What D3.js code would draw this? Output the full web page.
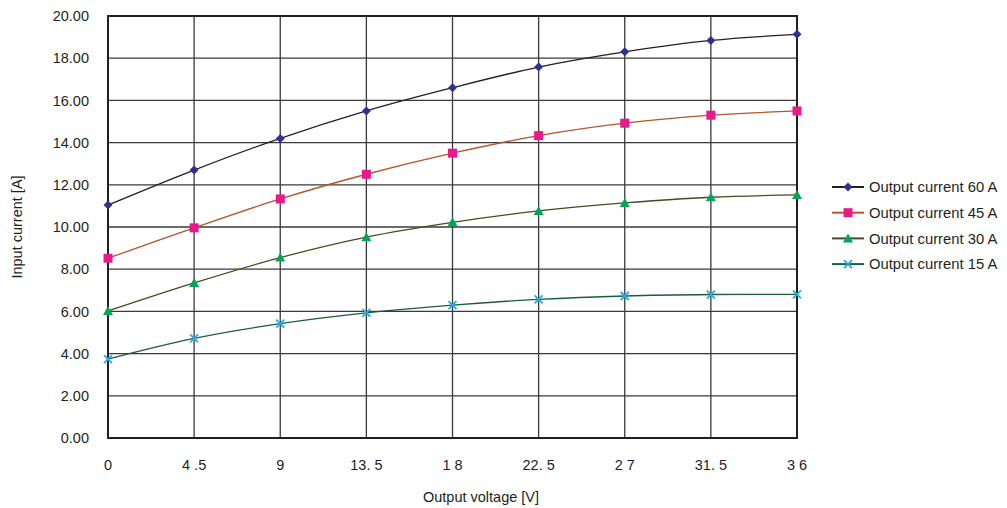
<!DOCTYPE html>
<html>
<head>
<meta charset="utf-8">
<script src="https://cdn.jsdelivr.net/npm/d3@7"></script>
<style>
  body { margin: 0; background: #fff; }
  text { font-family: "Liberation Sans", Arial, sans-serif; fill: #231f20; }
</style>
</head>
<body>
<div id="chart"></div>
<script>
var voltages = [0, 4.5, 9, 13.5, 18, 22.5, 27, 31.5, 36];
var xTickLabels = ["0", "4 .5", "9", "13. 5", "1 8", "22. 5", "2 7", "31. 5", "3 6"];
var yTicks = [0, 2, 4, 6, 8, 10, 12, 14, 16, 18, 20];

var current60 = [11.04, 12.70, 14.20, 15.50, 16.60, 17.58, 18.30, 18.84, 19.13];
var current45 = [8.52, 9.96, 11.33, 12.50, 13.50, 14.33, 14.92, 15.30, 15.50];
var current30 = [6.02, 7.35, 8.55, 9.52, 10.22, 10.76, 11.14, 11.41, 11.52];
var current15 = [3.74, 4.72, 5.42, 5.93, 6.30, 6.57, 6.73, 6.80, 6.81];

var seriesNames = ["Output current 60 A", "Output current 45 A", "Output current 30 A", "Output current 15 A"];

var series = [
  { name: seriesNames[0], values: current60, line: "#231f20", marker: "#2e3192", shape: "diamond" },
  { name: seriesNames[1], values: current45, line: "#b5552b", marker: "#e8198b", shape: "square" },
  { name: seriesNames[2], values: current30, line: "#4b4a1f", marker: "#00a55a", shape: "triangle" },
  { name: seriesNames[3], values: current15, line: "#1b5e3b", marker: "#27aae1", shape: "cross" }
];

var width = 1007, height = 508;
var margin = { left: 108, right: 210, top: 16, bottom: 70 };

var svg = d3.select("#chart").append("svg")
  .attr("width", width)
  .attr("height", height);

var x = d3.scaleLinear().domain([0, 36]).range([margin.left, width - margin.right]);
var y = d3.scaleLinear().domain([0, 20]).range([height - margin.bottom, margin.top]);

// grid
svg.append("g").selectAll("line.h")
  .data(yTicks)
  .enter().append("line")
  .attr("x1", x(0)).attr("x2", x(36))
  .attr("y1", function(d) { return y(d); })
  .attr("y2", function(d) { return y(d); })
  .attr("stroke", "#3a3a3a").attr("stroke-width", 1.3);

svg.append("g").selectAll("line.v")
  .data(voltages)
  .enter().append("line")
  .attr("y1", y(0)).attr("y2", y(20))
  .attr("x1", function(d) { return x(d); })
  .attr("x2", function(d) { return x(d); })
  .attr("stroke", "#3a3a3a").attr("stroke-width", 1.3);

// frame
svg.append("rect")
  .attr("x", x(0)).attr("y", y(20))
  .attr("width", x(36) - x(0)).attr("height", y(0) - y(20))
  .attr("fill", "none").attr("stroke", "#231f20").attr("stroke-width", 2);

// y tick labels
svg.append("g").selectAll("text")
  .data(yTicks)
  .enter().append("text")
  .attr("x", 89)
  .attr("y", function(d) { return y(d); })
  .attr("dy", "0.36em")
  .attr("text-anchor", "end")
  .style("font-size", "14.5px")
  .text(function(d) { return d3.format(".2f")(d); });

// x tick labels
svg.append("g").selectAll("text")
  .data(voltages)
  .enter().append("text")
  .attr("x", function(d) { return x(d); })
  .attr("y", 470)
  .attr("text-anchor", "middle")
  .style("font-size", "14.5px")
  .style("white-space", "pre")
  .text(function(d, i) { return xTickLabels[i]; });

// axis titles
svg.append("text")
  .attr("x", 481).attr("y", 502)
  .attr("text-anchor", "middle")
  .style("font-size", "14.5px")
  .text("Output voltage [V]");

svg.append("text")
  .attr("transform", "translate(22," + y(10) + ") rotate(-90)")
  .attr("text-anchor", "middle")
  .style("font-size", "14.5px")
  .text("Input current [A]");

var line = d3.line()
  .x(function(d, i) { return x(voltages[i]); })
  .y(function(d) { return y(d); })
  .curve(d3.curveCatmullRom.alpha(0.5));

function drawMarker(g, shape, color) {
  if (shape === "diamond") {
    g.append("path").attr("d", "M0,-4.5L4.5,0L0,4.5L-4.5,0Z").attr("fill", color);
  } else if (shape === "square") {
    g.append("rect").attr("x", -4.5).attr("y", -4.5).attr("width", 9).attr("height", 9).attr("fill", color);
  } else if (shape === "triangle") {
    g.append("path").attr("d", "M0,-5L5,4L-5,4Z").attr("fill", color);
  } else {
    g.append("path").attr("d", "M-4,-4L4,4M-4,4L4,-4")
      .attr("stroke", color).attr("stroke-width", 1.8).attr("fill", "none");
  }
}

series.forEach(function(s) {
  svg.append("path")
    .datum(s.values)
    .attr("d", line)
    .attr("fill", "none")
    .attr("stroke", s.line)
    .attr("stroke-width", 1.3);

  s.values.forEach(function(v, i) {
    var g = svg.append("g").attr("transform", "translate(" + x(voltages[i]) + "," + y(v) + ")");
    drawMarker(g, s.shape, s.marker);
  });
});

// legend
var legend = svg.selectAll(".legend")
  .data(series)
  .enter().append("g")
  .attr("class", "legend")
  .attr("transform", function(d, i) { return "translate(832," + (187 + i * 25.7) + ")"; });

legend.append("line")
  .attr("x1", 0).attr("x2", 32)
  .attr("stroke", function(d) { return d.line; })
  .attr("stroke-width", 2);

legend.each(function(d) {
  var g = d3.select(this).append("g").attr("transform", "translate(16,0)");
  drawMarker(g, d.shape, d.marker);
});

legend.append("text")
  .attr("x", 37)
  .attr("dy", "0.36em")
  .style("font-size", "14.8px")
  .text(function(d) { return d.name; });
</script>
</body>
</html>
